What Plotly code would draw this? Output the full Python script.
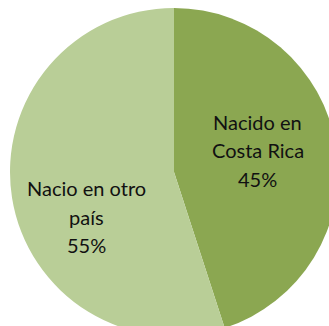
import plotly.graph_objects as go

# Lugar de nacimiento
labels = ["Nacido en<br>Costa Rica", "Nacio en otro<br>país"]
values = [45, 55]
colors = ["#8BA751", "#B9CE97"]

# Text block centres (paper fraction, measured from left / from top)
label_x = [0.756, 0.233]
label_y = [0.434, 0.637]
line_gap = [28.5, 28.5]  # px between text lines in each block

total = sum(values)

fig = go.Figure(
    go.Pie(
        labels=labels,
        values=values,
        sort=False,
        direction="clockwise",
        rotation=0,
        marker=dict(colors=colors, line=dict(width=0)),
        textinfo="none",
        hoverinfo="label+percent",
        showlegend=False,
        domain=dict(x=[0, 1], y=[0, 1]),
    )
)

annotations = []
for lab, v, x, y, gap in zip(labels, values, label_x, label_y, line_gap):
    lines = lab.split("<br>") + [f"{round(100 * v / total)}%"]
    n = len(lines)
    for i, line in enumerate(lines):
        annotations.append(
            dict(
                text=line,
                x=x,
                y=1 - y,
                xanchor="center",
                yanchor="middle",
                yshift=((n - 1) / 2 - i) * gap,
                xref="paper",
                yref="paper",
                showarrow=False,
                align="center",
                font=dict(family="Lato, 'Open Sans', sans-serif", size=20, color="#111111"),
            )
        )

fig.update_layout(
    width=338,
    height=336,
    margin=dict(l=10, r=0, t=8, b=0, pad=0),
    paper_bgcolor="white",
    plot_bgcolor="white",
    annotations=annotations,
)

fig.write_html(
    "out.html",
    config={"displayModeBar": False},
    post_script="document.documentElement.style.overflow='hidden';document.body.style.overflow='hidden';document.body.style.margin='0';",
)
